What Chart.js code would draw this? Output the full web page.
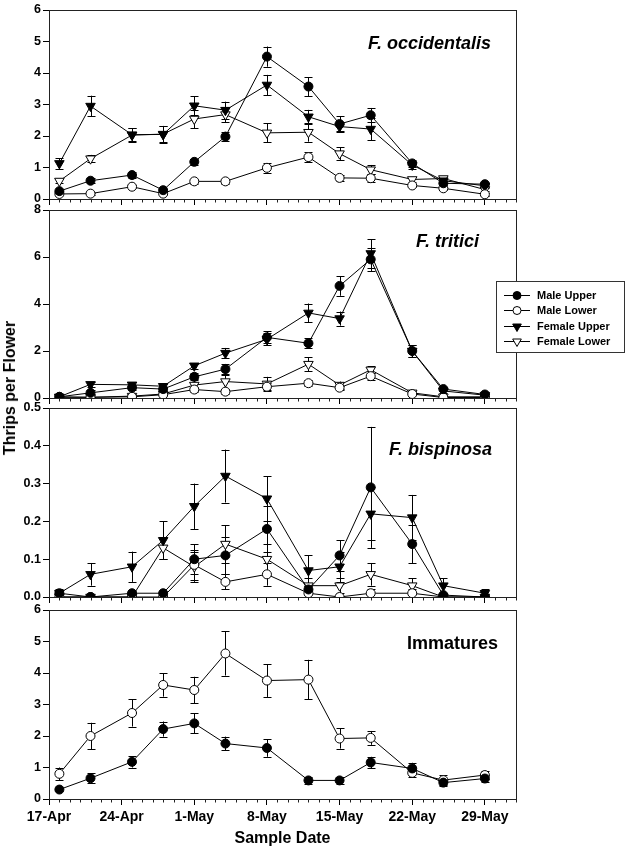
<!DOCTYPE html>
<html>
<head>
<meta charset="utf-8">
<script src="https://cdn.jsdelivr.net/npm/chart.js@4.4.1/dist/chart.umd.min.js"></script>
<style>
  body { margin: 0; background: #fff; width: 631px; height: 850px; position: relative; overflow: hidden; }
  canvas { position: absolute; left: 0; }
  #ylab {
    position: absolute; left: 10px; top: 388px; white-space: nowrap;
    transform: translate(-50%, -50%) rotate(-90deg);
    font: bold 16px "Liberation Sans", Arial, sans-serif; color: #000;
  }
</style>
</head>
<body>
<canvas id="p1"></canvas>
<canvas id="p2"></canvas>
<canvas id="p3"></canvas>
<canvas id="p4"></canvas>
<div id="ylab">Thrips per Flower</div>
<script>
// sample dates (x axis runs from 17-Apr, one unit per day)
const sampleDates = ['18-Apr', '21-Apr', '25-Apr', '28-Apr', '1-May', '4-May', '8-May',
                     '12-May', '15-May', '18-May', '22-May', '25-May', '29-May'];
const weekLabels = ['17-Apr', '24-Apr', '1-May', '8-May', '15-May', '22-May', '29-May'];

// F. occidentalis
const occMaleUpper = [0.25, 0.58, 0.76, 0.28, 1.18, 1.98, 4.52, 3.57, 2.38, 2.66, 1.13, 0.5, 0.47];
const occMaleUpperSE = [0.05, 0.08, 0.1, 0.05, 0.1, 0.15, 0.32, 0.3, 0.24, 0.23, 0.1, 0.06, 0.05];
const occMaleLower = [0.16, 0.17, 0.39, 0.17, 0.56, 0.56, 0.99, 1.33, 0.67, 0.66, 0.43, 0.34, 0.15];
const occMaleLowerSE = [0.03, 0.03, 0.05, 0.03, 0.08, 0.07, 0.15, 0.15, 0.1, 0.12, 0.06, 0.05, 0.04];
const occFemaleUpper = [1.13, 2.95, 2.04, 2.05, 2.96, 2.82, 3.62, 2.61, 2.3, 2.22, 1.08, 0.58, 0.42];
const occFemaleUpperSE = [0.17, 0.33, 0.2, 0.27, 0.3, 0.27, 0.32, 0.22, 0.14, 0.35, 0.12, 0.07, 0.05];
const occFemaleLower = [0.57, 1.28, 2.03, 2.06, 2.54, 2.68, 2.1, 2.12, 1.44, 0.93, 0.62, 0.65, 0.3];
const occFemaleLowerSE = [0.06, 0.12, 0.22, 0.25, 0.3, 0.25, 0.3, 0.3, 0.2, 0.15, 0.08, 0.06, 0.06];

// F. tritici
const triMaleUpper = [0.05, 0.22, 0.44, 0.38, 0.9, 1.23, 2.58, 2.33, 4.77, 5.9, 2.0, 0.38, 0.15];
const triMaleUpperSE = [0.03, 0.1, 0.12, 0.1, 0.15, 0.22, 0.25, 0.22, 0.42, 0.5, 0.25, 0.08, 0.05];
const triMaleLower = [0.05, 0.03, 0.05, 0.14, 0.36, 0.27, 0.48, 0.63, 0.44, 0.93, 0.17, 0.02, 0.02];
const triMaleLowerSE = [0.02, 0.02, 0.03, 0.05, 0.12, 0.08, 0.15, 0.12, 0.08, 0.15, 0.05, 0.02, 0.02];
const triFemaleUpper = [0.05, 0.58, 0.56, 0.5, 1.37, 1.91, 2.5, 3.62, 3.38, 6.15, 2.0, 0.3, 0.12];
const triFemaleUpperSE = [0.03, 0.1, 0.1, 0.08, 0.12, 0.22, 0.25, 0.4, 0.3, 0.6, 0.25, 0.08, 0.05];
const triFemaleLower = [0.03, 0.03, 0.08, 0.17, 0.55, 0.7, 0.6, 1.44, 0.55, 1.2, 0.22, 0.05, 0.05];
const triFemaleLowerSE = [0.02, 0.02, 0.05, 0.05, 0.25, 0.3, 0.3, 0.3, 0.15, 0.15, 0.08, 0.03, 0.03];

// F. bispinosa
const bisMaleUpper = [0.01, 0.0, 0.01, 0.01, 0.10, 0.11, 0.18, 0.02, 0.11, 0.29, 0.14, 0.005, 0.0];
const bisMaleUpperSE = [0.005, 0, 0.005, 0.005, 0.04, 0.05, 0.06, 0.01, 0.04, 0.16, 0.05, 0.005, 0];
const bisMaleLower = [0, 0, 0, 0, 0.085, 0.04, 0.06, 0.01, 0, 0.01, 0.01, 0, 0];
const bisMaleLowerSE = [0, 0, 0, 0, 0.04, 0.02, 0.03, 0.01, 0, 0.01, 0.01, 0, 0];
const bisFemaleUpper = [0.01, 0.06, 0.08, 0.15, 0.24, 0.32, 0.26, 0.07, 0.08, 0.22, 0.21, 0.03, 0.01];
const bisFemaleUpperSE = [0.01, 0.03, 0.04, 0.05, 0.06, 0.07, 0.06, 0.04, 0.04, 0.07, 0.06, 0.02, 0.01];
const bisFemaleLower = [0, 0, 0, 0.13, 0.08, 0.14, 0.10, 0.03, 0.03, 0.06, 0.03, 0, 0];
const bisFemaleLowerSE = [0, 0, 0, 0.03, 0.04, 0.05, 0.04, 0.02, 0.02, 0.03, 0.02, 0, 0];

// Immatures
const immUpper = [0.3, 0.66, 1.18, 2.22, 2.4, 1.76, 1.62, 0.59, 0.59, 1.16, 0.97, 0.52, 0.65];
const immUpperSE = [0.06, 0.15, 0.18, 0.24, 0.32, 0.22, 0.28, 0.12, 0.12, 0.18, 0.18, 0.1, 0.12];
const immLower = [0.8, 2.0, 2.73, 3.62, 3.46, 4.62, 3.76, 3.79, 1.92, 1.94, 0.83, 0.6, 0.76];
const immLowerSE = [0.2, 0.42, 0.43, 0.37, 0.42, 0.7, 0.52, 0.63, 0.32, 0.22, 0.14, 0.15, 0.12];

const FONT = '"Liberation Sans", Arial, sans-serif';
const PAGE_W = 631;

// marker styles for each series type
const markers = {
    maleUpper: { label: 'Male Upper', pointStyle: 'circle', fill: '#000', rotation: 0, radius: 4.5 },
    maleLower: { label: 'Male Lower', pointStyle: 'circle', fill: '#fff', rotation: 0, radius: 4.5 },
    femaleUpper: { label: 'Female Upper', pointStyle: 'triangle', fill: '#000', rotation: 180, radius: 5.5 },
    femaleLower: { label: 'Female Lower', pointStyle: 'triangle', fill: '#fff', rotation: 180, radius: 5.5 }
};

const monthStart = { Apr: 0, May: 30 };
function dayOf(label) {
    const parts = label.split('-');
    return monthStart[parts[1]] + parseInt(parts[0], 10) - 17;
}

function makeDataset(style, values, errors) {
    const m = markers[style];
    return {
        label: m.label,
        data: values.map((v, i) => ({ x: dayOf(sampleDates[i]), y: v })),
        errors: errors,
        borderColor: '#000',
        borderWidth: 1,
        pointStyle: m.pointStyle,
        pointRotation: m.rotation,
        pointRadius: m.radius,
        pointBackgroundColor: m.fill,
        pointBorderColor: '#000',
        pointBorderWidth: 1,
        tension: 0
    };
}

// error bars, drawn under the markers
const errorBars = {
    id: 'errorBars',
    beforeDatasetsDraw(chart) {
        const ctx = chart.ctx;
        const xs = chart.scales.x, ys = chart.scales.y;
        ctx.save();
        ctx.strokeStyle = '#000';
        ctx.lineWidth = 1;
        chart.data.datasets.forEach(ds => {
            if (!ds.errors) return;
            ds.data.forEach((p, i) => {
                const se = ds.errors[i];
                if (!se) return;
                const x = Math.round(xs.getPixelForValue(p.x)) + 0.5;
                const y1 = ys.getPixelForValue(p.y + se);
                const y2 = ys.getPixelForValue(Math.max(0, p.y - se));
                ctx.beginPath();
                ctx.moveTo(x, y1); ctx.lineTo(x, y2);
                ctx.moveTo(x - 4, Math.round(y1) + 0.5); ctx.lineTo(x + 4, Math.round(y1) + 0.5);
                ctx.moveTo(x - 4, Math.round(y2) + 0.5); ctx.lineTo(x + 4, Math.round(y2) + 0.5);
                ctx.stroke();
            });
        });
        ctx.restore();
    }
};

// plot frame, daily minor ticks, panel title, optional legend
const panelDecor = {
    id: 'panelDecor',
    afterDraw(chart, args, opts) {
        const ctx = chart.ctx;
        const a = chart.chartArea;
        const xs = chart.scales.x;
        ctx.save();
        ctx.strokeStyle = '#222';
        ctx.lineWidth = 1;
        ctx.strokeRect(Math.round(a.left) + 0.5, Math.round(a.top) + 0.5,
                       Math.round(a.right - a.left), Math.round(a.bottom - a.top));

        // daily minor ticks
        ctx.beginPath();
        for (let d = 0; d <= 45; d++) {
            if (d % 7 === 0) continue;
            const x = Math.round(xs.getPixelForValue(d)) + 0.5;
            ctx.moveTo(x, a.bottom);
            ctx.lineTo(x, a.bottom + 3.5);
        }
        ctx.stroke();

        // title
        ctx.fillStyle = '#000';
        ctx.font = (opts.italic ? 'italic ' : '') + 'bold 18px ' + FONT;
        ctx.textAlign = 'right';
        ctx.textBaseline = 'alphabetic';
        ctx.fillText(opts.title, opts.titleX, opts.titleY);

        if (opts.legend) {
            const L = opts.legend;
            ctx.fillStyle = '#fff';
            ctx.fillRect(L.x, L.y, L.w, L.h);
            ctx.strokeStyle = '#333';
            ctx.strokeRect(L.x + 0.5, L.y + 0.5, L.w, L.h);
            ctx.font = 'bold 11px ' + FONT;
            ctx.textBaseline = 'middle';
            ctx.textAlign = 'left';
            chart.data.datasets.forEach((ds, i) => {
                const y = Math.round(L.y + 14 + i * 15.3) + 0.5;
                ctx.strokeStyle = '#000';
                ctx.beginPath();
                ctx.moveTo(L.x + 8, y); ctx.lineTo(L.x + 34, y);
                ctx.stroke();
                ctx.fillStyle = ds.pointBackgroundColor;
                Chart.helpers.drawPoint(ctx, {
                    pointStyle: ds.pointStyle, radius: ds.pointRadius - 0.5,
                    rotation: ds.pointRotation, borderWidth: 1
                }, L.x + 21, y);
                ctx.fillStyle = '#000';
                ctx.fillText(ds.label, L.x + 41, y);
            });
        }
        ctx.restore();
    }
};

function makePanel(id, canvasTop, plotTop, plotBottom, axisH, yMax, yStep, yDigits, datasets, decor, bottomAxis) {
    const canvas = document.getElementById(id);
    const h = plotBottom - canvasTop + axisH;
    canvas.width = PAGE_W;
    canvas.height = h;
    canvas.style.width = PAGE_W + 'px';
    canvas.style.height = h + 'px';
    canvas.style.top = canvasTop + 'px';

    decor.titleY -= canvasTop;
    if (decor.legend) decor.legend.y -= canvasTop;

    return new Chart(canvas.getContext('2d'), {
        type: 'line',
        data: { datasets: datasets },
        plugins: [errorBars, panelDecor],
        options: {
            responsive: false,
            animation: false,
            layout: { padding: { top: plotTop - canvasTop, right: PAGE_W - 516, left: 0, bottom: 0 } },
            plugins: {
                legend: { display: false },
                tooltip: { enabled: false },
                panelDecor: decor
            },
            scales: {
                x: {
                    type: 'linear',
                    min: 0,
                    max: 45,
                    afterBuildTicks: s => { s.ticks = s.ticks.filter(t => t.value % 7 === 0); },
                    afterFit: s => { s.height = axisH; },
                    grid: { drawOnChartArea: false, tickLength: 6, color: '#000' },
                    border: { display: true, color: '#000' },
                    ticks: {
                        display: bottomAxis,
                        stepSize: 7,
                        maxRotation: 0,
                        autoSkip: false,
                        padding: 4,
                        color: '#000',
                        font: { family: FONT, size: 14, weight: 'bold' },
                        callback: v => weekLabels[v / 7]
                    },
                    title: {
                        display: bottomAxis,
                        text: 'Sample Date',
                        color: '#000',
                        padding: { top: 0, bottom: 2 },
                        font: { family: FONT, size: 16, weight: 'bold' }
                    }
                },
                y: {
                    min: 0,
                    max: yMax,
                    afterFit: s => { s.width = 49; },
                    grid: { drawOnChartArea: false, tickLength: 6, color: '#000' },
                    border: { display: true, color: '#000' },
                    ticks: {
                        stepSize: yStep,
                        padding: 2,
                        color: '#000',
                        font: { family: FONT, size: 12.5, weight: 'bold' },
                        callback: v => v.toFixed(yDigits)
                    }
                }
            }
        }
    });
}

makePanel('p1', 0, 10, 199, 13, 6, 1, 0, [
    makeDataset('maleUpper', occMaleUpper, occMaleUpperSE),
    makeDataset('maleLower', occMaleLower, occMaleLowerSE),
    makeDataset('femaleUpper', occFemaleUpper, occFemaleUpperSE),
    makeDataset('femaleLower', occFemaleLower, occFemaleLowerSE)
], { title: 'F. occidentalis', italic: true, titleX: 491, titleY: 49 }, false);

makePanel('p2', 200, 210, 398, 13, 8, 2, 0, [
    makeDataset('maleUpper', triMaleUpper, triMaleUpperSE),
    makeDataset('maleLower', triMaleLower, triMaleLowerSE),
    makeDataset('femaleUpper', triFemaleUpper, triFemaleUpperSE),
    makeDataset('femaleLower', triFemaleLower, triFemaleLowerSE)
], { title: 'F. tritici', italic: true, titleX: 479, titleY: 247,
     legend: { x: 496, y: 281, w: 128, h: 71 } }, false);

makePanel('p3', 398, 408, 597, 13, 0.5, 0.1, 1, [
    makeDataset('maleUpper', bisMaleUpper, bisMaleUpperSE),
    makeDataset('maleLower', bisMaleLower, bisMaleLowerSE),
    makeDataset('femaleUpper', bisFemaleUpper, bisFemaleUpperSE),
    makeDataset('femaleLower', bisFemaleLower, bisFemaleLowerSE)
], { title: 'F. bispinosa', italic: true, titleX: 492, titleY: 455 }, false);

const immDatasets = [
    makeDataset('maleUpper', immUpper, immUpperSE),
    makeDataset('maleLower', immLower, immLowerSE)
];
immDatasets[0].label = 'Upper';
immDatasets[1].label = 'Lower';
makePanel('p4', 600, 610, 799, 51, 6, 1, 0, immDatasets,
    { title: 'Immatures', italic: false, titleX: 498, titleY: 649 }, true);
</script>
</body>
</html>
